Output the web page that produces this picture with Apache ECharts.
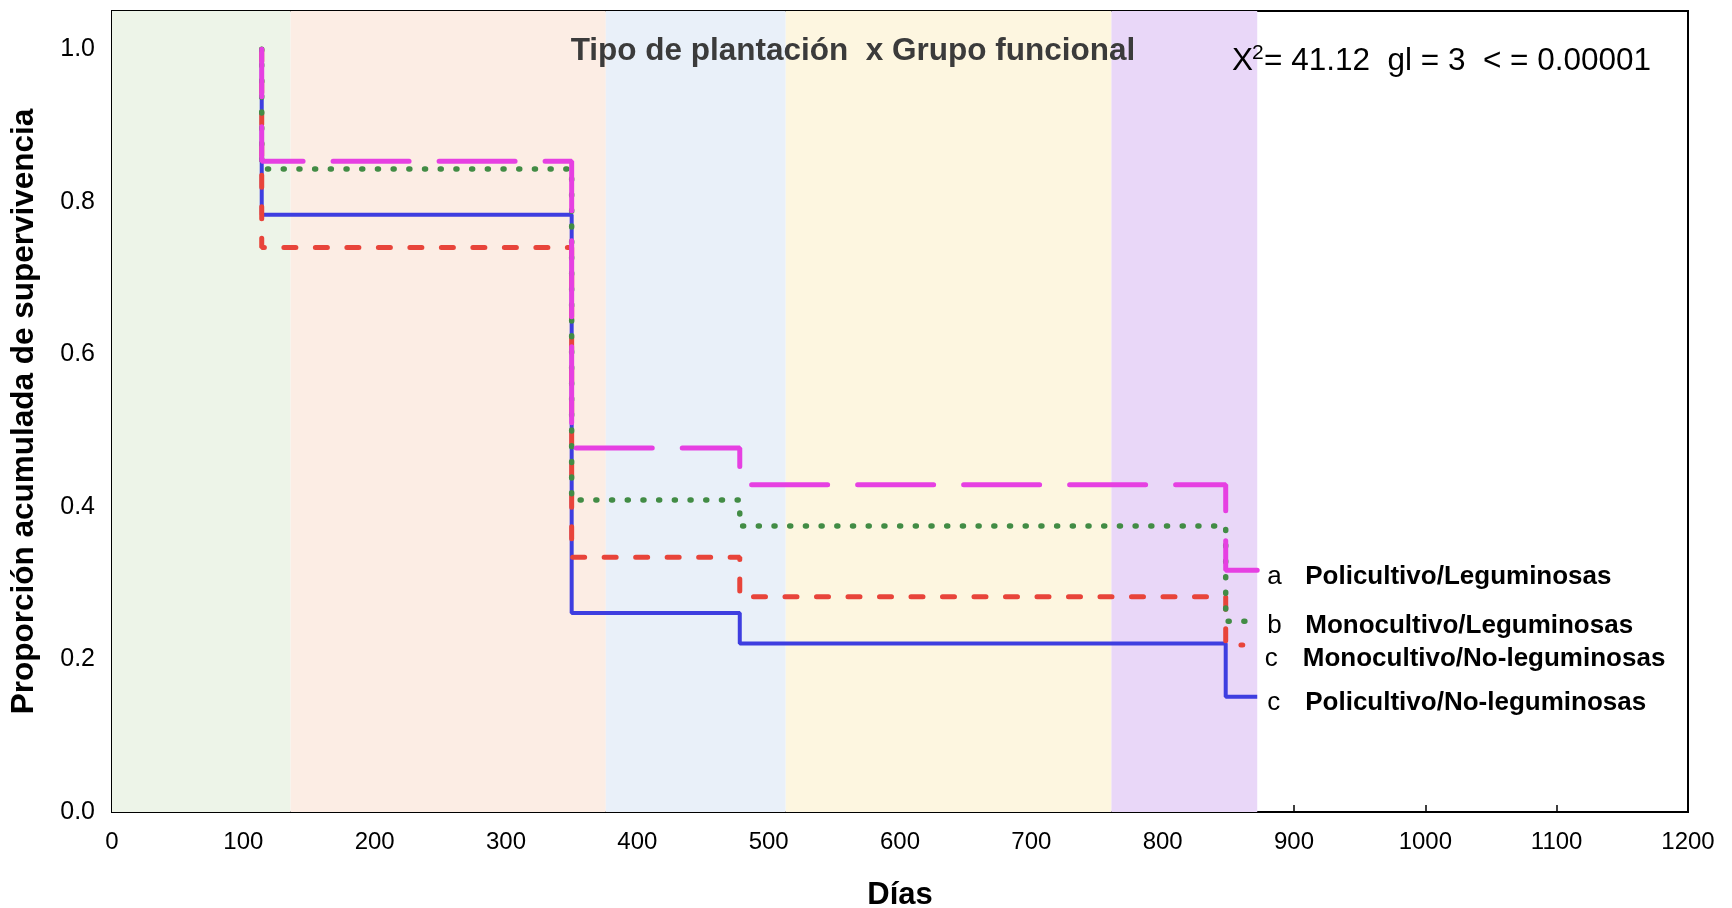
<!DOCTYPE html>
<html><head><meta charset="utf-8">
<script src="https://cdn.jsdelivr.net/npm/echarts/dist/echarts.min.js"></script>
<style>html,body{margin:0;padding:0;background:#fff}#c{width:1732px;height:908px}</style>
</head><body><div id="c"></div>
<script>
// ---- data ----
const stepDays = [114, 350, 478, 848];           // days at which survival drops
const endDays = [872, 872, 861, 872];             // last observed day per series
const seriesNames = ['Policultivo/Leguminosas', 'Monocultivo/Leguminosas', 'Monocultivo/No-leguminosas', 'Policultivo/No-leguminosas'];
const sigLetters = ['a', 'b', 'c', 'c'];
const polLeg    = [1.0, 0.853, 0.477, 0.429, 0.317];
const monoLeg   = [1.0, 0.843, 0.409, 0.375, 0.250];
const monoNoLeg = [1.0, 0.740, 0.334, 0.282, 0.219];
const polNoLeg  = [1.0, 0.783, 0.261, 0.221, 0.151];
const bandEdges = [0, 136, 376, 513, 761, 872];  // background period limits (days)
const xTickLabels = ['0','100','200','300','400','500','600','700','800','900','1000','1100','1200'];
const yTickLabels = ['0.0','0.2','0.4','0.6','0.8','1.0'];

// ---- styles ----
const FONT = '"Liberation Sans", Arial, sans-serif';
const bandColors = ['#EDF4E8', '#FCEDE4', '#E9F0F9', '#FDF6E0', '#E9D7F8'];

function kmPoints(vals, endDay) {
  const pts = [[stepDays[0], vals[0]]];
  for (let i = 0; i < stepDays.length; i++) {
    pts.push([stepDays[i], vals[i + 1]]);
    const next = i + 1 < stepDays.length ? stepDays[i + 1] : endDay;
    pts.push([next, vals[i + 1]]);
  }
  return pts;
}

function endLabel(idx, dx, dy) {
  return {
    show: true,
    formatter: () => '{l|' + sigLetters[idx] + '}{n|' + seriesNames[idx] + '}',
    distance: 10,
    offset: [dx, dy],
    align: 'left',
    verticalAlign: 'middle',
    rich: {
      l: { fontSize: 26, fontFamily: FONT, color: '#000', width: 38 },
      n: { fontSize: 26, fontFamily: FONT, fontWeight: 'bold', color: '#000' }
    }
  };
}

const bandData = [];
for (let i = 0; i < bandEdges.length - 1; i++) {
  bandData.push([{ xAxis: bandEdges[i], itemStyle: { color: bandColors[i] } }, { xAxis: bandEdges[i + 1] }]);
}

const chart = echarts.init(document.getElementById('c'), null, { renderer: 'canvas' });
chart.setOption({
  animation: false,
  grid: { left: 112, right: 44, top: 11, bottom: 96, containLabel: false, outerBoundsMode: 'none',
    show: true, borderColor: '#000', borderWidth: 2, backgroundColor: 'transparent' },
  xAxis: {
    type: 'value', min: 0, max: 1200, interval: 100,
    name: 'Días', nameLocation: 'middle', nameGap: 68,
    nameTextStyle: { fontFamily: FONT, fontSize: 31, fontWeight: 'bold', color: '#000' },
    axisLine: { show: true, lineStyle: { color: '#000', width: 2 } },
    axisTick: { show: true, inside: true, length: 7, lineStyle: { color: '#000', width: 1.5 } },
    axisLabel: { fontFamily: FONT, fontSize: 24, color: '#000', margin: 18, formatter: (v) => xTickLabels[Math.round(v / 100)] },
    splitLine: { show: false }
  },
  yAxis: {
    type: 'value', min: 0, max: 1.05, interval: 0.2,
    name: 'Proporción acumulada de supervivencia', nameLocation: 'middle', nameGap: 72,
    nameTextStyle: { fontFamily: FONT, fontSize: 31.5, fontWeight: 'bold', color: '#000' },
    axisLine: { show: true, lineStyle: { color: '#000', width: 2 } },
    axisTick: { show: true, inside: true, length: 7, lineStyle: { color: '#000', width: 1.5 } },
    axisLabel: { fontFamily: FONT, fontSize: 25, color: '#000', margin: 17, showMaxLabel: false,
      formatter: (v) => { const i = Math.round(v / 0.2); return Math.abs(v - i * 0.2) < 1e-6 ? yTickLabels[i] : ''; } },
    splitLine: { show: false }
  },
  graphic: [
    { type: 'text', x: 853, y: 51, z: 10, style: { text: 'Tipo de plantación  x Grupo funcional', fontFamily: FONT, fontSize: 31.5, fontWeight: 'bold', fill: '#3b3b3b', align: 'center', verticalAlign: 'middle' } },
    { type: 'text', x: 1232, y: 61, z: 10, style: { text: 'X', fontFamily: FONT, fontSize: 31.5, fill: '#000', align: 'left', verticalAlign: 'middle' } },
    { type: 'text', x: 1252, y: 53, z: 10, style: { text: '2', fontFamily: FONT, fontSize: 21, fill: '#000', align: 'left', verticalAlign: 'middle' } },
    { type: 'text', x: 1264, y: 61, z: 10, style: { text: '= 41.12  gl = 3  < = 0.00001', fontFamily: FONT, fontSize: 31.5, fill: '#000', align: 'left', verticalAlign: 'middle' } }
  ],
  series: [
    { type: 'line', data: [], silent: true, z: 0, markArea: { silent: true, data: bandData } },
    { name: seriesNames[3], type: 'line', z: 3, symbol: 'none', data: kmPoints(polNoLeg, endDays[3]),
      lineStyle: { color: '#3E3EE0', width: 4, type: 'solid' }, endLabel: endLabel(3, 0, 6) },
    { name: seriesNames[2], type: 'line', z: 4, symbol: 'none', data: kmPoints(monoNoLeg, endDays[2]),
      lineStyle: { color: '#E8443A', width: 5, type: [12, 19.5], cap: 'round' }, endLabel: endLabel(2, 12, 14) },
    { name: seriesNames[1], type: 'line', z: 5, symbol: 'none', data: kmPoints(monoLeg, endDays[1]),
      lineStyle: { color: '#428C45', width: 5.5, type: [1, 14.7], cap: 'round' }, endLabel: endLabel(1, 0, 5) },
    { name: seriesNames[0], type: 'line', z: 6, symbol: 'none', data: kmPoints(polLeg, endDays[0]),
      lineStyle: { color: '#E640E2', width: 5, type: [76, 30], dashOffset: 28.5, cap: 'round' }, endLabel: endLabel(0, 0, 7) }
  ]
});
</script>
</body></html>
